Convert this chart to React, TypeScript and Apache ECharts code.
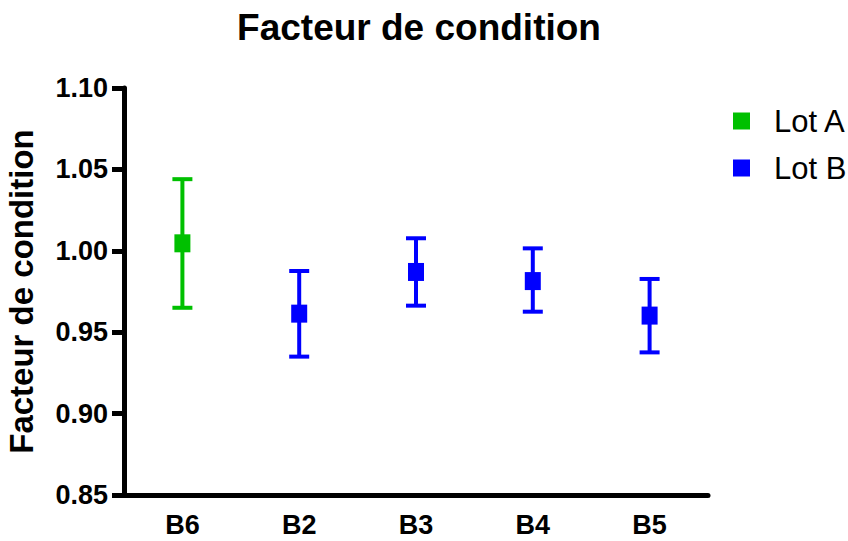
import React, { useEffect, useRef } from "react";
import * as echarts from "echarts";

const categories = ["B6", "B2", "B3", "B4", "B5"];
const yTicks = [0.85, 0.9, 0.95, 1.0, 1.05, 1.1];

const lotACats = ["B6"];
const lotAMean = [1.0046];
const lotALow = [0.965];
const lotAHigh = [1.044];

const lotBCats = ["B2", "B3", "B4", "B5"];
const lotBMean = [0.9614, 0.987, 0.9814, 0.9602];
const lotBLow = [0.935, 0.9663, 0.9626, 0.9376];
const lotBHigh = [0.9876, 1.0077, 1.0015, 0.9827];

const GREEN = "#00C000";
const BLUE = "#0000FF";
const FONT = "'Liberation Sans', Arial, sans-serif";

function errorSeries(name: string, cats: string[], low: number[], high: number[], color: string) {
  return {
    name,
    type: "custom",
    z: 2,
    data: cats.map((c, i) => [c, low[i], high[i]]),
    renderItem: (params: any, api: any) => {
      const x = api.value(0);
      const lo = api.coord([x, api.value(1)]);
      const hi = api.coord([x, api.value(2)]);
      const half = 10;
      const st = { stroke: color, lineWidth: 4, fill: "none" };
      return {
        type: "group",
        children: [
          { type: "line", shape: { x1: lo[0], y1: lo[1], x2: hi[0], y2: hi[1] }, style: st },
          { type: "line", shape: { x1: hi[0] - half, y1: hi[1], x2: hi[0] + half, y2: hi[1] }, style: st },
          { type: "line", shape: { x1: lo[0] - half, y1: lo[1], x2: lo[0] + half, y2: lo[1] }, style: st },
        ],
      };
    },
  };
}

export default function App() {
  const ref = useRef<HTMLDivElement>(null);
  useEffect(() => {
    if (!ref.current) return;
    const chart = echarts.init(ref.current, null, { renderer: "svg" });
    chart.setOption({
      animation: false,
      backgroundColor: "#ffffff",
      title: {
        text: "Facteur de condition",
        left: 414,
        top: 4,
        textAlign: "center",
        textStyle: { fontFamily: FONT, fontWeight: "bold", fontSize: 37, color: "#000" },
      },
      legend: {
        left: 728,
        top: 100,
        orient: "vertical",
        itemWidth: 17,
        itemHeight: 17,
        itemGap: 15,
        icon: "rect",
        data: [
          { name: "Lot A", itemStyle: { color: GREEN } },
          { name: "Lot B", itemStyle: { color: BLUE } },
        ],
        textStyle: { fontFamily: FONT, fontSize: 31, color: "#000", padding: [0, 0, 0, 19], lineHeight: 32 },
      },
      grid: { left: 124, right: 140, top: 88, bottom: 46, containLabel: false, outerBoundsMode: "none" },
      xAxis: {
        type: "category",
        data: categories,
        boundaryGap: true,
        axisLine: { lineStyle: { color: "#000", width: 5 } },
        axisTick: { alignWithLabel: true, length: 11, lineStyle: { color: "#000", width: 5 } },
        axisLabel: { fontFamily: FONT, fontWeight: "bold", fontSize: 27, color: "#000", margin: 16 },
        splitLine: { show: false },
      },
      yAxis: {
        type: "value",
        min: yTicks[0],
        max: yTicks[yTicks.length - 1],
        interval: 0.05,
        name: "Facteur de condition",
        nameLocation: "middle",
        nameGap: 86,
        nameMoveOverlap: false,
        nameTextStyle: { fontFamily: FONT, fontWeight: "bold", fontSize: 33, color: "#000" },
        axisLine: { show: true, lineStyle: { color: "#000", width: 5 } },
        axisTick: { show: true, length: 12, lineStyle: { color: "#000", width: 5 } },
        axisLabel: {
          fontFamily: FONT,
          fontWeight: "bold",
          fontSize: 27,
          color: "#000",
          margin: 16,
          formatter: (v: number) => v.toFixed(2),
        },
        splitLine: { show: false },
      },
      series: [
        errorSeries("Lot A", lotACats, lotALow, lotAHigh, GREEN),
        errorSeries("Lot B", lotBCats, lotBLow, lotBHigh, BLUE),
        {
          name: "Lot A",
          type: "scatter",
          z: 5,
          symbol: "rect",
          symbolSize: [16, 18],
          itemStyle: { color: GREEN, opacity: 1 },
          data: lotACats.map((c, i) => [c, lotAMean[i]]),
        },
        {
          name: "Lot B",
          type: "scatter",
          z: 5,
          symbol: "rect",
          symbolSize: [16, 18],
          itemStyle: { color: BLUE, opacity: 1 },
          data: lotBCats.map((c, i) => [c, lotBMean[i]]),
        },
      ],
    });
    return () => chart.dispose();
  }, []);
  return <div ref={ref} style={{ width: 848, height: 541, position: "absolute", left: 0, top: 0 }} />;
}
